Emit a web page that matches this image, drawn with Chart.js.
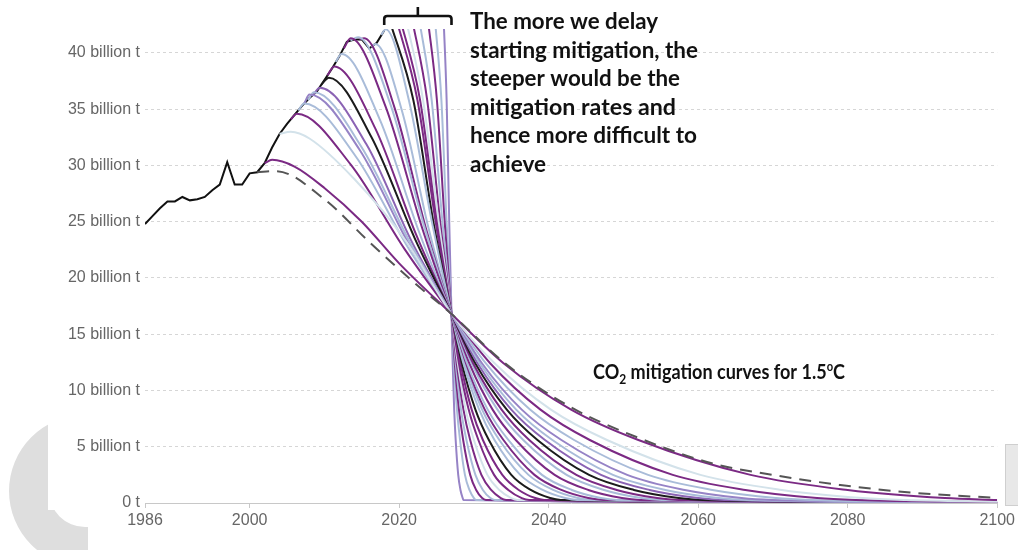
<!DOCTYPE html>
<html>
<head>
<meta charset="utf-8">
<title>CO2 mitigation curves for 1.5°C</title>
<script src="https://cdn.jsdelivr.net/npm/chart.js"></script>
<style>
  html, body { margin: 0; padding: 0; background: #fff; }
  #wrap { width: 1018px; height: 550px; }
</style>
</head>
<body>
<div id="wrap"><canvas id="Chart" width="1018" height="550"></canvas></div>
<script>
// Historical global CO2 emissions (billion t)
const historyYears = [1986, 1987, 1988, 1989, 1990, 1991, 1992, 1993, 1994, 1995, 1996,
  1997, 1998, 1999, 2000, 2001, 2002, 2003, 2004, 2005, 2006, 2007, 2008, 2009, 2010,
  2011, 2012, 2013, 2014, 2015, 2016, 2017, 2018];
const historyValues = [24.8, 25.5, 26.2, 26.8, 26.8, 27.2, 26.9, 27.0, 27.2, 27.8, 28.3,
  30.3, 28.3, 28.3, 29.3, 29.4, 30.2, 31.6, 32.8, 33.7, 34.5, 35.3, 36.0, 36.6, 37.6,
  38.6, 39.7, 41.0, 41.2, 41.2, 40.4, 40.9, 42.0];

// Mitigation pathways, [year, billion t], one per start year of mitigation
const path01 = [[2001, 29.4], [2003.5, 29.5], [2010, 27.0], [2016, 23.2], [2022, 19.6], [2027, 16.8], [2034, 12.5], [2043, 8.5], [2052, 5.8], [2062, 3.5], [2070, 2.5], [2079, 1.6], [2089, 0.9], [2100, 0.45]];
const path02 = [[2002, 30.2], [2003, 30.5], [2006, 29.9], [2010, 28.0], [2015, 25.0], [2020, 21.3], [2027, 16.8], [2034, 12.4], [2043, 8.3], [2052, 5.6], [2067, 2.5], [2080, 1.16], [2093, 0.44], [2100, 0.27]];
const path03 = [[2004, 32.8], [2005.5, 33.0], [2008, 32.4], [2014, 28.8], [2021, 23.2], [2027, 16.8], [2032.8, 12.4], [2040.3, 8.3], [2047.8, 5.6], [2060.3, 2.5], [2071.2, 1.16], [2082, 0.44], [2087.8, 0.27], [2100, 0.12]];
const path04 = [[2005.5, 34.1], [2006.3, 34.6], [2013.5, 30.1], [2020.8, 22.5], [2027, 16.8], [2032.2, 12.4], [2038.9, 8.3], [2045.5, 5.6], [2056.6, 2.5], [2066.3, 1.16], [2075.9, 0.44], [2081.1, 0.27], [2100, 0.08]];
const path05 = [[2006.5, 34.9], [2007.3, 35.5], [2014.2, 30.8], [2021.1, 22.8], [2027, 16.8], [2031.6, 12.4], [2037.5, 8.3], [2043.4, 5.6], [2053.3, 2.5], [2061.9, 1.16], [2070.4, 0.44], [2075, 0.27], [2100, 0.06]];
const path06 = [[2007.3, 35.5], [2008, 36.3], [2014.7, 31.4], [2021.3, 23.0], [2027, 16.8], [2031.1, 12.4], [2036.4, 8.3], [2041.7, 5.6], [2050.5, 2.5], [2058.2, 1.16], [2065.8, 0.44], [2069.9, 0.27], [2100, 0.05]];
const path07 = [[2007.8, 35.8], [2008.6, 36.5], [2015, 31.6], [2021.5, 23.1], [2027, 16.8], [2030.8, 12.4], [2035.65, 8.3], [2040.5, 5.6], [2048.6, 2.5], [2055.6, 1.16], [2062.7, 0.44], [2066.5, 0.27], [2100, 0.04]];
const path08 = [[2008.5, 36.3], [2009.4, 36.9], [2015.6, 31.9], [2021.7, 23.2], [2027, 16.8], [2030.5, 12.4], [2035, 8.3], [2039.5, 5.6], [2047, 2.5], [2053.5, 1.16], [2060, 0.44], [2063.5, 0.27], [2100, 0.03]];
const path09 = [[2009.6, 37.2], [2010.6, 37.8], [2016.3, 32.5], [2022.1, 23.5], [2027, 16.8], [2030.2, 12.4], [2034.4, 8.3], [2038.5, 5.6], [2045.4, 2.5], [2051.4, 1.16], [2057.4, 0.44], [2060.6, 0.27], [2100, 0.03]];
const path10 = [[2010.4, 38.0], [2011.3, 38.8], [2016.8, 33.3], [2022.3, 23.8], [2027, 16.8], [2029.9, 12.4], [2033.7, 8.3], [2037.4, 5.6], [2043.7, 2.5], [2049.1, 1.16], [2054.5, 0.44], [2057.4, 0.27], [2100, 0.02]];
const path11 = [[2011.5, 39.2], [2012.3, 39.9], [2017.4, 34.1], [2022.6, 24.2], [2027, 16.8], [2029.7, 12.4], [2033.15, 8.3], [2036.6, 5.6], [2042.4, 2.5], [2047.4, 1.16], [2052.4, 0.44], [2055.1, 0.27], [2100, 0.02]];
const path12 = [[2012.6, 40.4], [2013.5, 41.3], [2018.2, 35.2], [2023, 24.6], [2027, 16.8], [2029.4, 12.4], [2032.5, 8.3], [2035.6, 5.6], [2040.8, 2.5], [2045.3, 1.16], [2049.8, 0.44], [2052.2, 0.27], [2100, 0.02]];
const path13 = [[2013.5, 41.1], [2014.5, 41.4], [2018.9, 35.3], [2023.3, 24.7], [2027, 16.8], [2029.1, 12.4], [2031.85, 8.3], [2034.6, 5.6], [2039.1, 2.5], [2043.1, 1.16], [2047, 0.44], [2049.1, 0.27], [2100, 0.01]];
const path14 = [[2014.7, 41.2], [2015.3, 41.3], [2019.4, 35.1], [2023.5, 24.6], [2027, 16.8], [2028.95, 12.4], [2031.45, 8.3], [2033.95, 5.6], [2038.1, 2.5], [2041.7, 1.16], [2045.3, 0.44], [2047.3, 0.27], [2100, 0.01]];
const path15 = [[2016.3, 40.5], [2016.8, 40.8], [2020.4, 34.8], [2023.9, 24.5], [2027, 16.8], [2028.8, 12.4], [2031.1, 8.3], [2033.4, 5.6], [2037.3, 2.5], [2040.6, 1.16], [2043.9, 0.44], [2045.7, 0.27], [2100, 0.01]];
const path16 = [[2017.6, 41.6], [2018.2, 42.1], [2021.3, 35.8], [2024.4, 24.9], [2027, 16.8], [2028.6, 12.4], [2030.7, 8.3], [2032.75, 5.6], [2036.2, 2.5], [2039.2, 1.16], [2042.2, 0.44], [2043.8, 0.27], [2100, 0.01]];
const path17 = [[2018.1, 44.0], [2019.1, 42.1], [2021.9, 35.8], [2024.6, 24.9], [2027, 16.8], [2028.4, 12.4], [2030.2, 8.3], [2032, 5.6], [2035, 2.5], [2037.6, 1.16], [2040.2, 0.44], [2041.6, 0.27], [2100, 0.01]];
const path18 = [[2019.5, 43.1], [2020, 42.1], [2022.45, 35.8], [2024.9, 24.9], [2027, 16.8], [2028.2, 12.4], [2029.7, 8.3], [2031.2, 5.6], [2033.8, 2.5], [2036, 1.16], [2038.2, 0.44], [2039.4, 0.27], [2100, 0.01]];
const path19 = [[2020, 43.1], [2020.5, 42.1], [2022.8, 35.8], [2025.05, 24.9], [2027, 16.8], [2028, 12.4], [2029.3, 8.3], [2030.6, 5.6], [2032.7, 2.5], [2034.6, 1.16], [2036.4, 0.44], [2037.4, 0.27], [2100, 0.01]];
const path20 = [[2020.7, 43.4], [2021.2, 42.1], [2023.2, 35.8], [2025.3, 24.9], [2027, 16.8], [2027.85, 12.4], [2028.9, 8.3], [2030, 5.6], [2031.8, 2.5], [2033.4, 1.16], [2035, 0.44], [2035.8, 0.27], [2100, 0.01]];
const path21 = [[2021.5, 43.5], [2022, 42.1], [2023.75, 35.8], [2025.5, 24.9], [2027, 16.8], [2027.7, 12.4], [2028.6, 8.3], [2029.5, 5.6], [2031, 2.5], [2032.3, 1.16], [2033.6, 0.44], [2034.3, 0.27], [2100, 0.01]];
const path22 = [[2022.4, 43.8], [2022.9, 42.1], [2024.35, 35.8], [2025.8, 24.9], [2027, 16.8], [2027.56, 12.4], [2028.27, 8.3], [2029, 5.6], [2030.2, 2.5], [2031.2, 1.16], [2032.2, 0.44], [2032.8, 0.27], [2100, 0.01]];
const path23 = [[2023.5, 44.5], [2024, 42.1], [2025.05, 35.8], [2026.1, 24.9], [2027, 16.8], [2027.44, 12.4], [2028, 8.3], [2028.56, 5.6], [2029.5, 2.5], [2030.3, 1.16], [2031.1, 0.44], [2031.6, 0.27], [2100, 0.01]];
const path24 = [[2024.4, 45.5], [2024.9, 42.1], [2025.65, 35.8], [2026.35, 24.9], [2027, 16.8], [2027.32, 12.4], [2027.73, 8.3], [2028.14, 5.6], [2028.8, 2.5], [2029.4, 1.16], [2030, 0.44], [2030.3, 0.27], [2100, 0.01]];
const path25 = [[2025.5, 49.0], [2026, 42.1], [2026.35, 35.8], [2026.7, 24.9], [2027, 16.8], [2027.16, 12.4], [2027.36, 8.3], [2027.56, 5.6], [2027.9, 2.5], [2028.2, 1.16], [2028.5, 0.44], [2028.6, 0.27], [2100, 0.01]];

const pathways = [path01, path02, path03, path04, path05, path06, path07, path08, path09,
  path10, path11, path12, path13, path14, path15, path16, path17, path18, path19, path20,
  path21, path22, path23, path24, path25];

const PURPLE = '#7b2a84', STEEL = '#a9bcd9', LAVENDER = '#9683c6', BLACK = '#1c1c1c',
  PALE = '#d3e2ea', MAUVE = '#8b63b4', DASHED = '#555555';
const pathwayColors = [DASHED, PURPLE, PALE, PURPLE, STEEL, LAVENDER, STEEL, MAUVE, BLACK,
  PURPLE, STEEL, PURPLE, STEEL, PURPLE, STEEL, STEEL, BLACK, PURPLE, PURPLE, PALE,
  PURPLE, STEEL, PURPLE, STEEL, LAVENDER];

const xTicks = [1986, 2000, 2020, 2040, 2060, 2080, 2100];
const yTicks = [0, 5, 10, 15, 20, 25, 30, 35, 40];

const noteLines = ['The more we delay', 'starting mitigation, the', 'steeper would be the',
  'mitigation rates and', 'hence more difficult to', 'achieve'];

const NOTE_FONT = 'Lato, "Noto Sans", sans-serif';

// draw a run of text pieces (with sub/superscripts) squeezed to a given width
function drawRuns(ctx, runs, x, y, width) {
  let natural = 0;
  runs.forEach(r => { ctx.font = 'bold ' + r.size + 'px ' + NOTE_FONT; natural += ctx.measureText(r.text).width; });
  const sx = width / natural;
  ctx.save();
  ctx.translate(x, y);
  ctx.scale(sx, 1);
  let cx = 0;
  runs.forEach(r => {
    ctx.font = 'bold ' + r.size + 'px ' + NOTE_FONT;
    ctx.fillText(r.text, cx, r.shift || 0);
    cx += ctx.measureText(r.text).width;
  });
  ctx.restore();
}

const overlay = {
  id: 'overlay',
  beforeDraw(chart) {
    const ctx = chart.ctx;
    ctx.save();
    // grey ring in the lower left corner, partly hidden by the page panel
    ctx.beginPath();
    ctx.rect(0, 0, 48, 550);
    ctx.rect(48, 510, 40, 40);
    ctx.clip();
    ctx.fillStyle = '#dedede';
    ctx.beginPath();
    ctx.arc(85, 491, 76, 0, Math.PI * 2);
    ctx.arc(85, 491, 36, 0, Math.PI * 2, true);
    ctx.fill('evenodd');
    ctx.restore();

    ctx.save();
    ctx.fillStyle = '#e8e8e8';
    ctx.fillRect(1005, 444, 13, 62);
    ctx.strokeStyle = '#cfcfcf';
    ctx.lineWidth = 1;
    ctx.strokeRect(1005.5, 444.5, 13, 61);
    ctx.restore();
  },
  afterDraw(chart) {
    const ctx = chart.ctx;
    const xs = chart.scales.x;
    const x0 = xs.getPixelForValue(2018), x1 = xs.getPixelForValue(2027);
    const xm = (x0 + x1) / 2;
    ctx.save();
    // bracket over the late start years
    ctx.strokeStyle = '#111';
    ctx.lineWidth = 2.6;
    ctx.lineJoin = 'round';
    ctx.beginPath();
    ctx.moveTo(x0, 25);
    ctx.lineTo(x0, 19);
    ctx.quadraticCurveTo(x0, 16, x0 + 3, 16);
    ctx.lineTo(x1 - 3, 16);
    ctx.quadraticCurveTo(x1, 16, x1, 19);
    ctx.lineTo(x1, 25);
    ctx.moveTo(xm, 16);
    ctx.lineTo(xm, 7);
    ctx.stroke();

    ctx.fillStyle = '#111';
    ctx.textBaseline = 'alphabetic';
    const widths = [188, 228, 210, 206, 227, 76];
    noteLines.forEach((line, i) => {
      drawRuns(ctx, [{ text: line, size: 23 }], 470, 29 + i * 28.5, widths[i]);
    });
    drawRuns(ctx, [
      { text: 'CO', size: 21 },
      { text: '2', size: 14, shift: 5 },
      { text: ' mitigation curves for 1.5', size: 21 },
      { text: 'o', size: 13, shift: -8 },
      { text: 'C', size: 21 }
    ], 593, 379, 252);
    ctx.restore();
  }
};

const datasets = pathways.map((knots, i) => ({
  data: knots.map(([x, y]) => ({ x, y })),
  borderColor: pathwayColors[i],
  borderWidth: 2,
  borderDash: i === 0 ? [12, 8] : [],
  cubicInterpolationMode: 'monotone',
  pointRadius: 0,
  order: 1
}));
datasets.push({
  data: historyYears.map((x, i) => ({ x, y: historyValues[i] })),
  borderColor: '#111',
  borderWidth: 2,
  tension: 0,
  pointRadius: 0,
  order: 2
});

new Chart(document.getElementById('Chart'), {
  type: 'line',
  data: { datasets },
  options: {
    responsive: false,
    animation: false,
    events: [],
    layout: { padding: { top: 29, right: 18, left: 0, bottom: 0 } },
    plugins: { legend: { display: false }, tooltip: { enabled: false } },
    scales: {
      x: {
        type: 'linear',
        min: 1986,
        max: 2100,
        afterBuildTicks: s => { s.ticks = xTicks.map(v => ({ value: v })); },
        afterFit: s => { s.height = 47; },
        ticks: {
          color: '#666',
          font: { family: '"Liberation Sans", Arial, sans-serif', size: 16 },
          padding: 3,
          maxRotation: 0,
          callback: v => String(v)
        },
        grid: { drawOnChartArea: false, tickLength: 5, color: '#c8c8c8' },
        border: { color: '#c8c8c8', width: 1 }
      },
      y: {
        min: 0,
        max: 42.13,
        afterBuildTicks: s => { s.ticks = yTicks.map(v => ({ value: v })); },
        afterFit: s => { s.width = 145; },
        ticks: {
          color: '#666',
          font: { family: '"Liberation Sans", Arial, sans-serif', size: 16 },
          padding: 5,
          callback: v => (v === 0 ? '0 t' : v + ' billion t')
        },
        grid: {
          drawTicks: false,
          color: c => (c.tick && c.tick.value === 0 ? 'rgba(0,0,0,0)' : '#d6d6d6')
        },
        border: { display: false, dash: [3, 3] }
      }
    }
  },
  plugins: [overlay]
});
</script>
</body>
</html>
